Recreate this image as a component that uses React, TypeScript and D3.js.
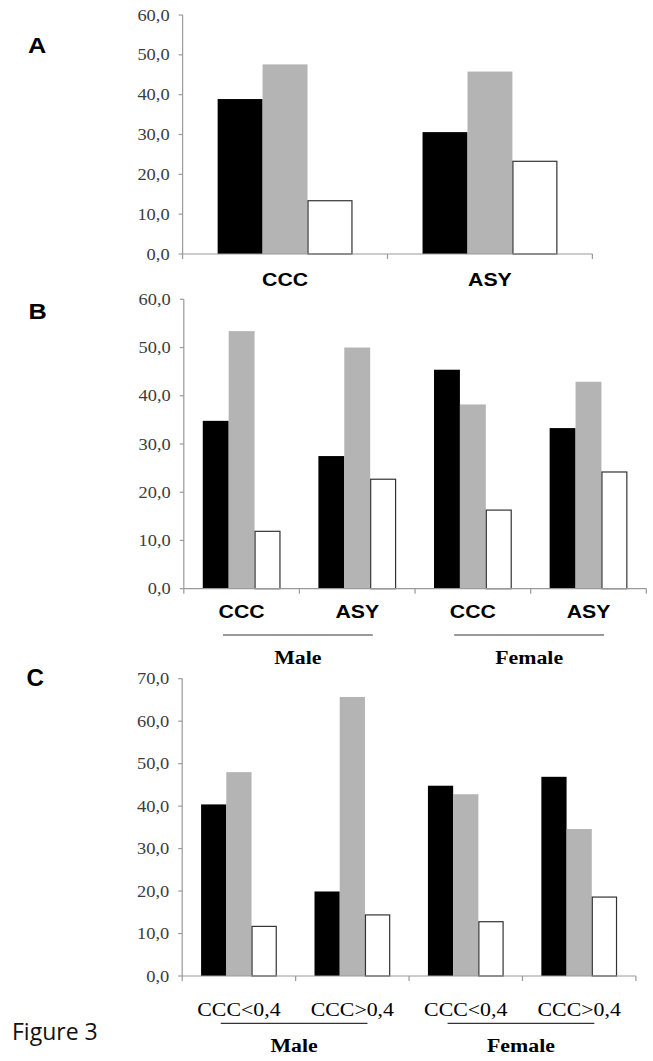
import React from "react";
import * as d3 from "d3";

// ---------- data ----------
const seriesKeys = ["black", "gray", "white"];

const aCategories = ["CCC", "ASY"];
const aBlack = [38.9, 30.6];
const aGray = [47.6, 45.8];
const aWhite = [13.5, 23.4];
const aTicks = [0, 10, 20, 30, 40, 50, 60];

const bCategories = ["CCC", "ASY", "CCC", "ASY"];
const bBlack = [34.8, 27.5, 45.4, 33.3];
const bGray = [53.4, 50.0, 38.2, 42.9];
const bWhite = [12.0, 22.8, 16.4, 24.3];
const bTicks = [0, 10, 20, 30, 40, 50, 60];

const cCategories = ["CCC<0,4", "CCC>0,4", "CCC<0,4", "CCC>0,4"];
const cBlack = [40.4, 19.9, 44.8, 46.9];
const cGray = [48.0, 65.7, 42.8, 34.6];
const cWhite = [11.8, 14.5, 12.9, 18.7];
const cTicks = [0, 10, 20, 30, 40, 50, 60, 70];

const sexGroups = ["Male", "Female"];

// ---------- styles ----------
const FILL: Record<string, string> = { black: "#000000", gray: "#b4b4b4", white: "#ffffff" };
const AXIS = "#9a9a9a";
const TICKTXT = "#3c3c3c";
const SX = 1.15;
const SERIF = "'Liberation Serif', 'Times New Roman', serif";
const SANS = "'Liberation Sans', Arial, sans-serif";

const fmt = (v: number) => d3.format(".1f")(v).replace(".", ",");

function SText(props: {
  x: number; y: number; size: number; family: string; weight?: string | number;
  anchor?: string; fill?: string; children: React.ReactNode; sx?: number;
}) {
  const s = props.sx ?? SX;
  return (
    <text
      transform={`translate(${props.x},${props.y}) scale(${s},1)`}
      fontSize={props.size}
      fontFamily={props.family}
      fontWeight={props.weight ?? "normal"}
      textAnchor={props.anchor ?? "middle"}
      fill={props.fill ?? "#000"}
    >
      {props.children}
    </text>
  );
}

type PanelProps = {
  categories: string[];
  values: number[][];
  ticks: number[];
  x0: number; x1: number; yTop: number; yBottom: number;
  padInner: number;
  catLabelY: number;
  catFont: { size: number; family: string; weight: string | number };
  groups?: string[];
  groupLineY?: number;
  groupLabelY?: number;
  letter: string;
  letterX: number; letterY: number; letterSize: number; letterSx: number; letterWeight: string | number;
};

function Panel(p: PanelProps) {
  const idx = p.categories.map((_, i) => String(i));
  const x = d3.scaleBand().domain(idx).range([p.x0, p.x1]).paddingInner(p.padInner).paddingOuter(p.padInner / 2);
  const xs = d3.scaleBand().domain(seriesKeys).range([0, x.bandwidth()]);
  const yMax = p.ticks[p.ticks.length - 1];
  const y = d3.scaleLinear().domain([0, yMax]).range([p.yBottom, p.yTop]);
  const step = x.step();
  const boundaries = d3.range(p.categories.length + 1).map((i) => p.x0 + i * step);

  return (
    <g>
      {/* bars */}
      {p.categories.map((_, i) =>
        seriesKeys.map((k, j) => {
          const v = p.values[j][i];
          const bx = (x(String(i)) as number) + (xs(k) as number);
          const by = y(v);
          const isWhite = k === "white";
          return (
            <rect
              key={`${i}-${k}`}
              x={isWhite ? bx + 0.5 : bx}
              y={isWhite ? by + 0.5 : by}
              width={isWhite ? xs.bandwidth() - 1 : xs.bandwidth()}
              height={isWhite ? y(0) - by - 0.5 : y(0) - by}
              fill={FILL[k]}
              stroke={isWhite ? "#333" : "none"}
              strokeWidth={isWhite ? 1.2 : 0}
            />
          );
        })
      )}
      {/* y axis */}
      <line x1={p.x0} x2={p.x0} y1={y(yMax)} y2={y(0)} stroke={AXIS} strokeWidth={1.2} />
      {p.ticks.map((t) => (
        <g key={t}>
          <line x1={p.x0 - 4} x2={p.x0} y1={y(t)} y2={y(t)} stroke={AXIS} strokeWidth={1.2} />
          <SText x={p.x0 - 13} y={y(t) + 5.5} size={16} family={SERIF} anchor="end" fill={TICKTXT}>
            {fmt(t)}
          </SText>
        </g>
      ))}
      {/* x axis */}
      <line x1={p.x0} x2={p.x1} y1={y(0)} y2={y(0)} stroke={AXIS} strokeWidth={1.2} />
      {boundaries.map((bx, i) => (
        <line key={i} x1={bx} x2={bx} y1={y(0)} y2={y(0) + 5} stroke={AXIS} strokeWidth={1.2} />
      ))}
      {/* category labels */}
      {p.categories.map((c, i) => (
        <SText
          key={i}
          x={(x(String(i)) as number) + x.bandwidth() / 2}
          y={p.catLabelY}
          size={p.catFont.size}
          family={p.catFont.family}
          weight={p.catFont.weight}
        >
          {c}
        </SText>
      ))}
      {/* group underline + labels */}
      {p.groups &&
        p.groups.map((g, gi) => {
          const a = (x(String(gi * 2)) as number) + x.bandwidth() * 0.26;
          const b = (x(String(gi * 2 + 1)) as number) + x.bandwidth() * 0.7;
          return (
            <g key={g}>
              <line x1={a} x2={b} y1={p.groupLineY} y2={p.groupLineY} stroke="#333" strokeWidth={1.2} />
              <SText x={(a + b) / 2} y={p.groupLabelY as number} size={19} family={SERIF} weight="bold">
                {g}
              </SText>
            </g>
          );
        })}
      {/* panel letter */}
      <SText x={p.letterX} y={p.letterY} size={p.letterSize} family={SANS} weight={p.letterWeight} anchor="start" sx={p.letterSx}>
        {p.letter}
      </SText>
    </g>
  );
}

export default function App() {
  const boldSans = { size: 18.5, family: SANS, weight: "bold" };
  return (
    <svg
      width={653}
      height={1061}
      style={{ position: "absolute", left: 0, top: 0, background: "#fff" }}
    >
      <rect x={0} y={0} width={653} height={1061} fill="#fff" />
      <Panel
        categories={aCategories}
        values={[aBlack, aGray, aWhite]}
        ticks={aTicks}
        x0={182.6} x1={592.4} yTop={15} yBottom={254}
        padInner={0.342}
        catLabelY={285.5}
        catFont={boldSans}
        letter="A" letterX={28} letterY={52.7} letterSize={22} letterSx={1.15} letterWeight="bold"
      />
      <Panel
        categories={bCategories}
        values={[bBlack, bGray, bWhite]}
        ticks={bTicks}
        x0={183.8} x1={646.3} yTop={299.3} yBottom={588.7}
        padInner={0.328}
        catLabelY={617.5}
        catFont={boldSans}
        groups={sexGroups}
        groupLineY={635}
        groupLabelY={663.5}
        letter="B" letterX={28.5} letterY={318.5} letterSize={22} letterSx={1.15} letterWeight="bold"
      />
      <Panel
        categories={cCategories}
        values={[cBlack, cGray, cWhite]}
        ticks={cTicks}
        x0={182.2} x1={635.9} yTop={678.7} yBottom={976}
        padInner={0.333}
        catLabelY={1015.5}
        catFont={{ size: 19, family: SERIF, weight: "normal" }}
        groups={sexGroups}
        groupLineY={1023.3}
        groupLabelY={1052}
        letter="C" letterX={26.5} letterY={686} letterSize={23} letterSx={1.05} letterWeight="bold"
      />
      <text x={12} y={1039.5} fontSize={23} fontFamily="'Open Sans', sans-serif" fill="#111">
        Figure 3
      </text>
    </svg>
  );
}
